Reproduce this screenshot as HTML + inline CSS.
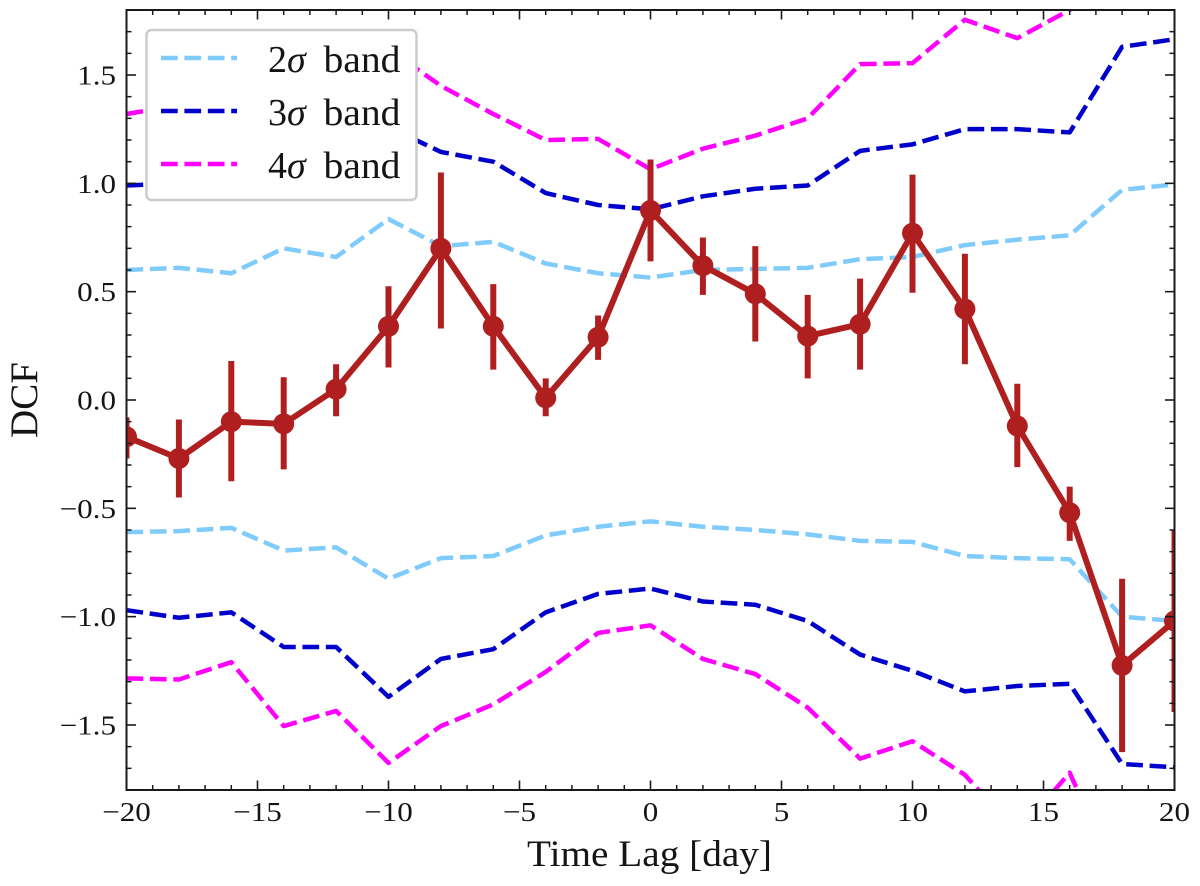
<!DOCTYPE html>
<html lang="en">
<head>
<meta charset="utf-8">
<title>DCF vs Time Lag</title>
<style>
  html, body { margin: 0; padding: 0; background: #fff; }
  svg { display: block; }
  text { font-family: "Liberation Serif", serif; fill: #151515; }
</style>
</head>
<body>
<svg id="chart" xmlns="http://www.w3.org/2000/svg" width="1200" height="886" viewBox="0 0 1200 886">
  <defs>
    <clipPath id="plot-clip"><rect x="126.5" y="10" width="1048" height="780"></rect></clipPath>
  </defs>
  <rect width="1200" height="886" fill="#ffffff"></rect>
  <g id="bands" clip-path="url(#plot-clip)"></g>
  <g id="dcf" clip-path="url(#plot-clip)"></g>
  <g id="axes"></g>
  <text x="649.5" y="866" font-size="37" text-anchor="middle" textLength="245" lengthAdjust="spacingAndGlyphs">Time Lag [day]</text>
  <text transform="translate(37,400) rotate(-90)" font-size="39" text-anchor="middle">DCF</text>
  <g id="legend">
    <rect x="146.5" y="30" width="270" height="170" rx="5" ry="5" fill="#ffffff" stroke="#cccccc" stroke-width="2.5"></rect>
    <g>
      <line x1="161" x2="237" y1="58" y2="58" stroke="#7fcbfb" stroke-width="4.5" stroke-dasharray="16.7 6.7"></line>
      <text x="268" y="72" font-size="38">2<tspan font-style="italic">σ</tspan></text>
      <text x="323.5" y="72" font-size="38" textLength="77" lengthAdjust="spacingAndGlyphs">band</text>
    </g>
    <g>
      <line x1="161" x2="237" y1="111" y2="111" stroke="#0000cd" stroke-width="4.5" stroke-dasharray="16.7 6.7"></line>
      <text x="268" y="125" font-size="38">3<tspan font-style="italic">σ</tspan></text>
      <text x="323.5" y="125" font-size="38" textLength="77" lengthAdjust="spacingAndGlyphs">band</text>
    </g>
    <g>
      <line x1="161" x2="237" y1="164" y2="164" stroke="#ff00ff" stroke-width="4.5" stroke-dasharray="16.7 6.7"></line>
      <text x="268" y="178" font-size="38">4<tspan font-style="italic">σ</tspan></text>
      <text x="323.5" y="178" font-size="38" textLength="77" lengthAdjust="spacingAndGlyphs">band</text>
    </g>
  </g>
</svg>
<script>
// Data
var lags = [-20,-18,-16,-14,-12,-10,-8,-6,-4,-2,0,2,4,6,8,10,12,14,16,18,20];
var dcfValues = [-0.17,-0.27,-0.10,-0.11,0.05,0.34,0.70,0.34,0.01,0.29,0.875,0.62,0.49,0.295,0.35,0.77,0.42,-0.12,-0.52,-1.225,-1.02];
var dcfUpper = [-0.08,-0.09,0.18,0.105,0.165,0.525,1.05,0.535,0.10,0.39,1.11,0.75,0.71,0.485,0.56,1.04,0.675,0.075,-0.40,-0.825,-0.60];
var dcfLower = [-0.27,-0.45,-0.375,-0.32,-0.075,0.15,0.33,0.14,-0.075,0.185,0.64,0.485,0.27,0.10,0.14,0.495,0.165,-0.31,-0.65,-1.625,-1.44];
var band2Upper = [0.60,0.61,0.585,0.70,0.66,0.835,0.71,0.73,0.63,0.585,0.565,0.60,0.605,0.61,0.65,0.66,0.715,0.74,0.76,0.97,0.995];
var band2Lower = [-0.61,-0.605,-0.59,-0.695,-0.68,-0.825,-0.73,-0.72,-0.625,-0.585,-0.56,-0.585,-0.60,-0.62,-0.65,-0.655,-0.72,-0.73,-0.735,-1.0,-1.02];
var band3Upper = [0.99,1.0,1.02,1.13,1.10,1.26,1.145,1.10,0.955,0.90,0.88,0.94,0.975,0.99,1.15,1.18,1.25,1.25,1.235,1.63,1.665];
var band3Lower = [-0.97,-1.005,-0.98,-1.14,-1.14,-1.37,-1.195,-1.15,-0.98,-0.895,-0.87,-0.93,-0.945,-1.02,-1.175,-1.25,-1.345,-1.32,-1.31,-1.68,-1.695];
var band4Upper = [1.32,1.36,1.40,1.62,1.58,1.62,1.45,1.32,1.20,1.205,1.065,1.16,1.22,1.30,1.55,1.555,1.755,1.67,1.80,2.0,2.05];
var band4Lower = [-1.285,-1.29,-1.21,-1.505,-1.435,-1.675,-1.505,-1.405,-1.255,-1.075,-1.04,-1.195,-1.265,-1.42,-1.655,-1.575,-1.73,-2.0,-1.72,-2.27,-2.3];
var xTickLabels = [-20,-15,-10,-5,0,5,10,15,20];
var yTickLabels = [-1.5,-1.0,-0.5,0.0,0.5,1.0,1.5];
var xMinorTicks = [-19,-18,-17,-16,-14,-13,-12,-11,-9,-8,-7,-6,-4,-3,-2,-1,1,2,3,4,6,7,8,9,11,12,13,14,16,17,18,19];
var yMinorTicks = [-1.7,-1.6,-1.4,-1.3,-1.2,-1.1,-0.9,-0.8,-0.7,-0.6,-0.4,-0.3,-0.2,-0.1,0.1,0.2,0.3,0.4,0.6,0.7,0.8,0.9,1.1,1.2,1.3,1.4,1.6,1.7];

var NS = 'http://www.w3.org/2000/svg';
var LEFT = 126.5, RIGHT = 1174.5, TOP = 10, BOTTOM = 790;
function xScale(v) { return LEFT + (v + 20) / 40 * (RIGHT - LEFT); }
function yScale(v) { return 400 - v / 1.8 * 390; }
function mk(tag, parent) {
  var el = document.createElementNS(NS, tag);
  parent.appendChild(el);
  return el;
}
function pathFor(values) {
  var pts = [];
  for (var i = 0; i < values.length; i++) {
    pts.push((i ? 'L' : 'M') + xScale(lags[i]).toFixed(2) + ' ' + yScale(values[i]).toFixed(2));
  }
  return pts.join(' ');
}
function minusFmt(v, digits) {
  var s = Math.abs(v).toFixed(digits);
  return (v < 0 ? '\u2212' : '') + s;
}
function widen(t) {
  t.setAttribute('lengthAdjust', 'spacingAndGlyphs');
  t.setAttribute('textLength', (t.getComputedTextLength() * 1.13).toFixed(1));
}

var bandsGroup = document.getElementById('bands');
function drawBand(values, color, name) {
  var p = mk('path', bandsGroup);
  
  
  p.setAttribute('d', pathFor(values));
  p.setAttribute('fill', 'none');
  p.setAttribute('stroke', color);
  p.setAttribute('stroke-width', '4.5');
  p.setAttribute('stroke-linejoin', 'round');
  p.setAttribute('stroke-dasharray', '16.7 6.7');
}
drawBand(band2Upper, '#7fcbfb', 'band-2-sigma-upper');
drawBand(band2Lower, '#7fcbfb', 'band-2-sigma-lower');
drawBand(band3Upper, '#0000cd', 'band-3-sigma-upper');
drawBand(band3Lower, '#0000cd', 'band-3-sigma-lower');
drawBand(band4Upper, '#ff00ff', 'band-4-sigma-upper');
drawBand(band4Lower, '#ff00ff', 'band-4-sigma-lower');

var dcfGroup = document.getElementById('dcf');
var dcfLine = mk('path', dcfGroup);


dcfLine.setAttribute('d', pathFor(dcfValues));
dcfLine.setAttribute('fill', 'none');
dcfLine.setAttribute('stroke', '#b01f1f');
dcfLine.setAttribute('stroke-width', '6');
dcfLine.setAttribute('stroke-linejoin', 'round');
for (var i = 0; i < lags.length; i++) {
  var bar = mk('line', dcfGroup);
  
  
  bar.setAttribute('x1', xScale(lags[i]));
  bar.setAttribute('x2', xScale(lags[i]));
  bar.setAttribute('y1', yScale(dcfUpper[i]));
  bar.setAttribute('y2', yScale(dcfLower[i]));
  bar.setAttribute('stroke', '#b01f1f');
  bar.setAttribute('stroke-width', '6');
  var dot = mk('circle', dcfGroup);
  
  
  dot.setAttribute('cx', xScale(lags[i]));
  dot.setAttribute('cy', yScale(dcfValues[i]));
  dot.setAttribute('r', '10.5');
  dot.setAttribute('fill', '#b01f1f');
}

var axes = document.getElementById('axes');
function tickLine(x1, y1, x2, y2, w, name) {
  var t = mk('line', axes);
  
  
  t.setAttribute('x1', x1);
  t.setAttribute('y1', y1);
  t.setAttribute('x2', x2);
  t.setAttribute('y2', y2);
  t.setAttribute('stroke', '#1a1a1a');
  t.setAttribute('stroke-width', w);
}
var MAJ = 9.5, MIN = 5;
xMinorTicks.forEach(function (v) {
  var x = xScale(v);
  tickLine(x, BOTTOM, x, BOTTOM - MIN, 1.5, 'x-minor-tick');
  tickLine(x, TOP, x, TOP + MIN, 1.5, 'x-minor-tick-top');
});
yMinorTicks.forEach(function (v) {
  var y = yScale(v);
  tickLine(LEFT, y, LEFT + MIN, y, 1.5, 'y-minor-tick');
  tickLine(RIGHT, y, RIGHT - MIN, y, 1.5, 'y-minor-tick-right');
});
xTickLabels.forEach(function (v) {
  var x = xScale(v);
  tickLine(x, BOTTOM, x, BOTTOM - MAJ, 1.6, 'x-major-tick');
  tickLine(x, TOP, x, TOP + MAJ, 1.6, 'x-major-tick-top');
  var t = mk('text', axes);
  
  
  t.setAttribute('x', x);
  t.setAttribute('y', 821);
  t.setAttribute('font-size', '27.5');
  t.setAttribute('text-anchor', 'middle');
  t.textContent = minusFmt(v, 0);
  widen(t);
});
yTickLabels.forEach(function (v) {
  var y = yScale(v);
  tickLine(LEFT, y, LEFT + MAJ, y, 1.6, 'y-major-tick');
  tickLine(RIGHT, y, RIGHT - MAJ, y, 1.6, 'y-major-tick-right');
  var t = mk('text', axes);
  
  
  t.setAttribute('x', 116);
  t.setAttribute('y', y + 9.5);
  t.setAttribute('font-size', '27.5');
  t.setAttribute('text-anchor', 'end');
  t.textContent = minusFmt(v, 1);
  widen(t);
});
var frame = mk('rect', axes);


frame.setAttribute('x', LEFT);
frame.setAttribute('y', TOP);
frame.setAttribute('width', RIGHT - LEFT);
frame.setAttribute('height', BOTTOM - TOP);
frame.setAttribute('fill', 'none');
frame.setAttribute('stroke', '#1a1a1a');
frame.setAttribute('stroke-width', '2');
</script>
</body>
</html>
